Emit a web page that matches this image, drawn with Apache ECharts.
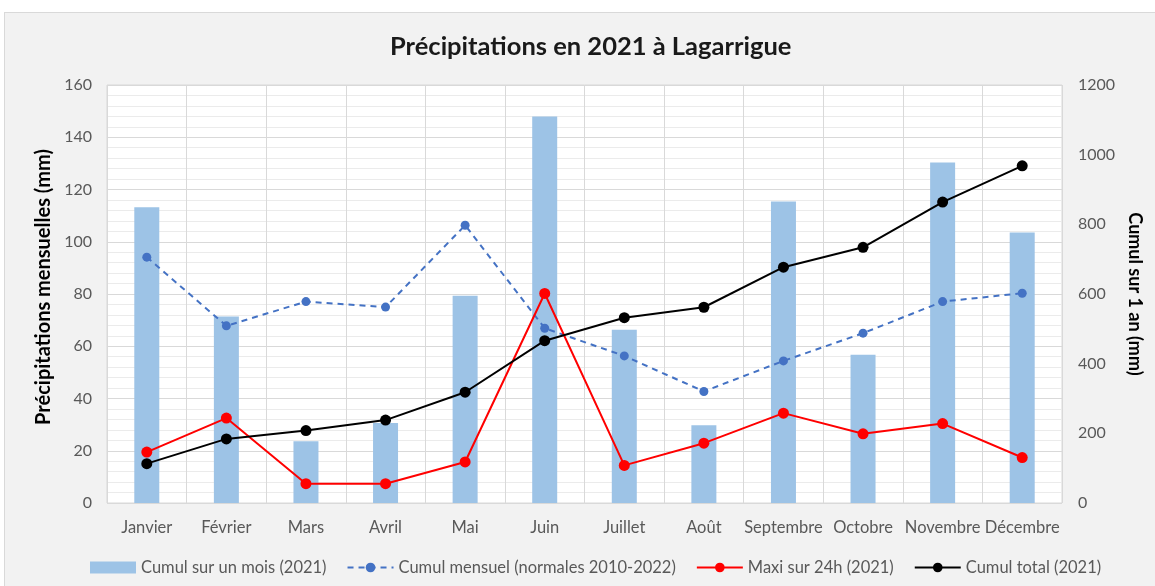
<!DOCTYPE html>
<html>
<head>
<meta charset="utf-8">
<script src="https://cdn.jsdelivr.net/npm/echarts@6/dist/echarts.min.js"></script>
<style>
  html, body { margin: 0; padding: 0; background: #fff; }
  #main {
    position: absolute; left: 4px; top: 12px;
    width: 1150px; height: 573px;
    border-left: 1px solid #d9d9d9; border-top: 1px solid #d9d9d9;
    background: #f2f2f2;
  }
</style>
</head>
<body>
<div id="main"></div>
<script>
// mois
const months = ["Janvier", "Février", "Mars", "Avril", "Mai", "Juin", "Juillet", "Août", "Septembre", "Octobre", "Novembre", "Décembre"];
// Cumul sur un mois (2021), mm
const cumulMois = [113.2, 71.4, 23.6, 30.6, 79.3, 147.9, 66.3, 29.8, 115.4, 56.7, 130.3, 103.5];
// Cumul mensuel (normales 2010-2022), mm
const normales = [94.1, 67.8, 77.1, 75.0, 106.3, 66.9, 56.3, 42.7, 54.4, 65.0, 77.1, 80.3];
// Maxi sur 24h (2021), mm
const maxi24h = [19.5, 32.5, 7.4, 7.4, 15.7, 80.2, 14.4, 22.9, 34.4, 26.5, 30.4, 17.4];
// Cumul total (2021), axe de droite
const cumulTotal = [113, 184, 208, 238, 318, 466, 532, 562, 677, 734, 864, 968];

const labelColor = "#595959";
const fontFamily = "Lato, 'Open Sans', sans-serif";

const chart = echarts.init(document.getElementById("main"));

chart.setOption({
  textStyle: { fontFamily: fontFamily },
  animation: false,
  title: {
    text: "Précipitations en 2021 à Lagarrigue",
    left: 380,
    top: 16,
    textStyle: { fontSize: 25.5, fontWeight: "bold", color: "#1a1a1a", fontFamily: fontFamily }
  },
  grid: {
    left: 102,
    right: 93,
    top: 72,
    bottom: 83,
    show: true,
    backgroundColor: "#fff",
    borderColor: "#d9d9d9",
    borderWidth: 1
  },
  legend: {
    top: 541,
    left: 80,
    itemWidth: 46,
    itemHeight: 12,
    itemGap: 20,
    textStyle: { fontSize: 16.5, color: labelColor },
    data: [
      { name: "Cumul sur un mois (2021)", icon: "rect" },
      "Cumul mensuel (normales 2010-2022)",
      "Maxi sur 24h (2021)",
      "Cumul total (2021)"
    ]
  },
  xAxis: {
    type: "category",
    data: months,
    axisLine: { show: false },
    axisTick: { show: false },
    axisLabel: { fontSize: 16.5, color: labelColor, margin: 16, interval: 0 },
    splitLine: { show: true, lineStyle: { color: "#d9d9d9", width: 1 } }
  },
  yAxis: [
    {
      type: "value",
      min: 0,
      max: 160,
      interval: 20,
      name: "Précipitations mensuelles (mm)",
      nameLocation: "middle",
      nameGap: 43,
      nameTextStyle: { fontSize: 20, fontWeight: "bold", color: "#000", padding: [0, 0, 0, 14] },
      axisLine: { show: false },
      axisTick: { show: false },
      axisLabel: { fontSize: 16, color: labelColor, margin: 15 },
      splitLine: { show: true, lineStyle: { color: "#d9d9d9", width: 1 } },
      minorTick: { show: false, splitNumber: 5 },
      minorSplitLine: { show: true, lineStyle: { color: "#ebebeb", width: 1 } }
    },
    {
      type: "value",
      min: 0,
      max: 1200,
      interval: 200,
      name: "Cumul sur 1 an (mm)",
      nameLocation: "middle",
      nameRotate: -90,
      nameGap: 57,
      nameTextStyle: { fontSize: 18, fontWeight: "bold", color: "#000" },
      axisLine: { show: false },
      axisTick: { show: false },
      axisLabel: { fontSize: 16, color: labelColor, margin: 16, formatter: (v) => String(v) },
      splitLine: { show: false }
    }
  ],
  series: [
    {
      name: "Cumul sur un mois (2021)",
      type: "bar",
      barWidth: 25,
      data: cumulMois,
      itemStyle: { color: "#9dc3e6" }
    },
    {
      name: "Cumul mensuel (normales 2010-2022)",
      type: "line",
      data: normales,
      symbol: "circle",
      symbolSize: 9,
      lineStyle: { color: "#4472c4", width: 2, type: [6, 5] },
      itemStyle: { color: "#4472c4" }
    },
    {
      name: "Maxi sur 24h (2021)",
      type: "line",
      data: maxi24h,
      symbol: "circle",
      symbolSize: 11,
      lineStyle: { color: "#ff0000", width: 2 },
      itemStyle: { color: "#ff0000" }
    },
    {
      name: "Cumul total (2021)",
      type: "line",
      yAxisIndex: 1,
      data: cumulTotal,
      symbol: "circle",
      symbolSize: 11,
      lineStyle: { color: "#000", width: 2 },
      itemStyle: { color: "#000" }
    }
  ]
});
</script>
</body>
</html>
